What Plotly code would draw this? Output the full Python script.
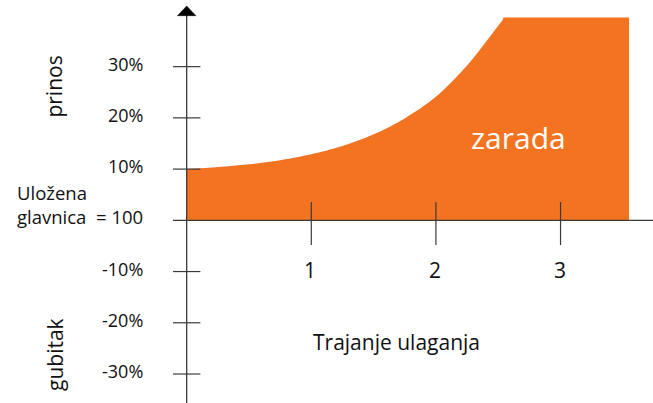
import plotly.graph_objects as go

# ---- data ----
curve_years = [0.00, 0.25, 0.50, 0.75, 1.00, 1.25, 1.50, 1.75, 2.00, 2.25, 2.40, 2.55]
curve_returns = [10.0, 10.4, 10.95, 11.75, 12.9, 14.5, 16.8, 19.9, 24.1, 30.2, 34.8, 39.6]
plateau_years = [2.54, 3.55]
plateau_returns = [39.6, 39.6]

y_ticks = [30, 20, 10, -10, -20, -30]
y_tick_labels = ["30%", "20%", "10%", "-10%", "-20%", "-30%"]
x_ticks = [1, 2, 3]
x_tick_labels = ["1", "2", "3"]

ORANGE = "#F37321"
AXIS = "#3a3a3a"
TEXT = "#111111"
FONT = "Open Sans"

X_RANGE = [-1.498, 3.742]
Y_RANGE = [-35.66, 43.01]

fig = go.Figure()
fig.add_trace(go.Scatter(x=curve_years, y=curve_returns, mode="lines",
                         line=dict(width=0, shape="spline", smoothing=0.9),
                         fill="tozeroy", fillcolor=ORANGE, hoverinfo="skip",
                         showlegend=False))
fig.add_trace(go.Scatter(x=plateau_years, y=plateau_returns, mode="lines",
                         line=dict(width=0), fill="tozeroy", fillcolor=ORANGE,
                         hoverinfo="skip", showlegend=False))

shapes = []
# axes
shapes.append(dict(type="line", xref="x", yref="y", x0=-0.11, x1=3.75, y0=0, y1=0,
                   line=dict(color=AXIS, width=1.3)))
shapes.append(dict(type="line", xref="x", yref="y", x0=0, x1=0, y0=Y_RANGE[0], y1=40.2,
                   line=dict(color=AXIS, width=1.3)))
shapes.append(dict(type="path", xref="x", yref="y",
                   path="M -0.0738,39.95 L 0.0738,39.95 L 0,41.84 Z",
                   fillcolor="#000000", line=dict(color="#000000", width=0.5)))
# y ticks
for v in y_ticks:
    shapes.append(dict(type="line", xref="x", yref="y", x0=-0.11, x1=0.11, y0=v, y1=v,
                       line=dict(color=AXIS, width=1.2)))
# x ticks
for v in x_ticks:
    shapes.append(dict(type="line", xref="x", yref="y", x0=v, x1=v, y0=3.58, y1=-4.81,
                       line=dict(color=AXIS, width=1.2)))

ann = []
for v, t in zip(y_ticks, y_tick_labels):
    ann.append(dict(x=0, y=v, xref="x", yref="y", text=t, showarrow=False,
                    xanchor="right", yanchor="middle", xshift=-42, yshift=3,
                    font=dict(family=FONT, size=18, color=TEXT)))
for v, t in zip(x_ticks, x_tick_labels):
    ann.append(dict(x=v, y=0, xref="x", yref="y", text=t, showarrow=False,
                    xanchor="center", yanchor="middle", xshift=-1, yshift=-50,
                    font=dict(family=FONT, size=21, color=TEXT)))
ann.append(dict(x=0, y=0, xref="x", yref="y",
                text="Uložena<br>glavnica\u00a0\u00a0= 100", showarrow=False,
                xanchor="right", yanchor="middle", align="left", xshift=-42, yshift=16,
                font=dict(family=FONT, size=18.5, color=TEXT)))
ann.append(dict(x=1.684, y=-23.7, xref="x", yref="y", text="Trajanje ulaganja",
                showarrow=False, xanchor="center", yanchor="middle",
                font=dict(family=FONT, size=21, color=TEXT)))
ann.append(dict(x=-1.065, y=26.1, xref="x", yref="y", text="prinos", textangle=-90,
                showarrow=False, xanchor="center", yanchor="middle",
                font=dict(family=FONT, size=21, color=TEXT)))
ann.append(dict(x=-1.057, y=-26.1, xref="x", yref="y", text="gubitak", textangle=-90,
                showarrow=False, xanchor="center", yanchor="middle",
                font=dict(family=FONT, size=21, color=TEXT)))
ann.append(dict(x=2.659, y=16.1, xref="x", yref="y", text="zarada",
                showarrow=False, xanchor="center", yanchor="middle",
                font=dict(family=FONT, size=30, color="#ffffff")))

fig.update_layout(
    width=653, height=403, autosize=False,
    margin=dict(l=0, r=0, t=0, b=0, pad=0),
    paper_bgcolor="#ffffff", plot_bgcolor="#ffffff",
    xaxis=dict(range=X_RANGE, visible=False, fixedrange=True),
    yaxis=dict(range=Y_RANGE, visible=False, fixedrange=True),
    shapes=shapes, annotations=ann,
    showlegend=False,
)

fig.write_html("out.html", config={"displayModeBar": False},
               post_script="document.body.style.margin='0';document.body.style.overflow='hidden';")
